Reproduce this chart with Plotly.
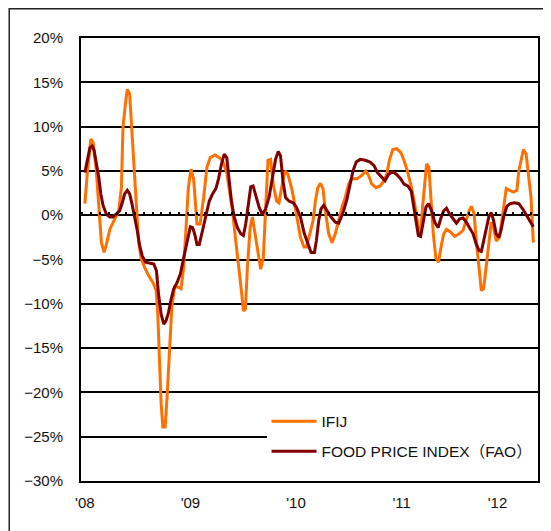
import plotly.graph_objects as go

# x positions in months since Jan 2008, values in %
ifij_month = [0, 0.3, 0.68, 0.94, 1.3, 1.58, 1.88, 2.18, 2.45, 2.83, 3.4, 3.85, 4.15, 4.33, 4.6, 4.82,
              5.09, 5.27, 5.58, 5.84, 6.1, 6.4, 6.79, 7.24, 7.73, 8.1, 8.29, 8.48, 8.67, 8.86, 9.12,
              9.34, 9.6, 9.88, 10.2, 10.55, 10.93, 11.23, 11.5, 11.76, 12.06, 12.36, 12.74, 13.1,
              13.5, 13.87, 14.25, 14.78, 15.27, 15.64, 16.13, 16.4, 16.78, 17.15, 17.53, 17.83,
              18.02, 18.25, 18.47, 18.78, 19.04, 19.34, 19.68, 19.98, 20.28, 20.54, 20.81, 21.11,
              21.41, 21.79, 22.06, 22.43, 22.74, 23.08, 23.56, 24.13, 24.5, 24.9, 25.18, 25.57,
              25.94, 26.2, 26.47, 26.77, 27.07, 27.33, 27.71, 28.09, 28.46, 28.85, 29.22, 29.59,
              29.98, 30.35, 30.92, 31.48, 31.93, 32.24, 32.61, 33.1, 33.55, 34.0, 34.3, 34.61,
              34.99, 35.44, 35.9, 36.27, 36.65, 37.03, 37.45, 37.9, 38.16, 38.38, 38.64, 38.84,
              39.1, 39.29, 39.6, 39.89, 40.19, 40.53, 40.79, 41.1, 41.55, 42.04, 42.53, 42.99,
              43.36, 43.67, 43.93, 44.23, 44.49, 44.8, 45.06, 45.32, 45.62, 45.93, 46.19, 46.45,
              46.75, 47.13, 47.52, 47.89, 48.27, 48.72, 49.1, 49.32, 49.58, 49.84, 50.15, 50.45,
              50.71, 50.97]
ifij_value = [1.3, 5.0, 8.6, 8.2, 5.0, 0.5, -3.1, -4.2, -3.3, -1.6, -0.4, 0.5, 3.1, 9.9, 12.5, 14.2,
              13.7, 10.7, 5.4, 0.5, -2.9, -4.9, -5.9, -6.8, -7.6, -8.5, -11.2, -16.4, -21.3, -23.9, -23.9,
              -20.6, -15.3, -10.4, -8.1, -8.1, -8.3, -5.9, -1.4, 3.1, 5.2, 4.1, -1.0, -1.0,
              2.0, 5.4, 6.5, 6.8, 6.5, 6.2, 4.8, 3.1, 0.5, -2.9, -5.9, -8.9,
              -10.8, -10.6, -5.9, -1.4, -0.2, -2.1, -4.4, -6.1, -4.8, 1.6, 6.2, 6.3,
              3.5, 1.6, 1.4, 3.5, 5.0, 4.6, 2.8, -0.4, -2.5, -3.6, -3.6, -2.1,
              -0.6, 1.6, 3.1, 3.6, 3.0, 0.5, -2.1, -3.1, -2.1, -0.6, 0.9, 2.0,
              3.5, 4.1, 4.1, 4.5, 5.0, 4.5, 3.5, 3.1, 3.3, 3.9, 4.6, 6.2,
              7.4, 7.5, 7.1, 6.2, 5.0, 3.5, 1.5, -1.4, -2.1, 0.9, 3.9, 5.8,
              5.4, 2.0, -2.1, -4.8, -5.3, -3.3, -2.1, -1.6, -1.9, -2.4, -2.1, -1.7,
              -0.6, 0.5, 1.0, 0.2, -2.9, -6.3, -8.5, -8.3, -5.5, -2.5, -0.8, -1.4,
              -2.9, -2.5, 0.1, 3.0, 2.8, 2.6, 2.8, 5.0, 6.2, 7.4, 6.9, 4.3,
              2.0, -3.1]

fao_month = [0, 0.3, 0.57, 0.83, 1.05, 1.31, 1.58, 1.81, 2.07, 2.45, 2.83, 3.2, 3.58, 3.96, 4.25,
             4.52, 4.82, 5.09, 5.35, 5.66, 5.95, 6.22, 6.52, 6.9, 7.35, 7.84, 8.14, 8.37, 8.67,
             8.97, 9.23, 9.5, 9.8, 10.1, 10.48, 10.86, 11.23, 11.6, 11.99, 12.25, 12.5, 12.74,
             13.0, 13.38, 13.76, 14.14, 14.51, 14.89, 15.19, 15.53, 15.84, 16.13, 16.4, 16.66,
             16.97, 17.34, 17.72, 18.02, 18.28, 18.55, 18.85, 19.12, 19.41, 19.8, 20.17, 20.54,
             20.93, 21.3, 21.67, 21.98, 22.24, 22.51, 22.81, 23.19, 23.68, 24.05, 24.5, 24.95,
             25.34, 25.71, 26.09, 26.31, 26.58, 26.84, 27.15, 27.52, 27.97, 28.46, 28.85, 29.14,
             29.41, 29.79, 30.16, 30.47, 30.84, 31.29, 31.86, 32.42, 32.87, 33.26, 33.74, 34.12,
             34.5, 34.99, 35.44, 35.9, 36.27, 36.7, 37.1, 37.33, 37.62, 37.9, 38.16, 38.46, 38.76,
             39.06, 39.4, 39.77, 40.16, 40.53, 40.79, 41.1, 41.47, 41.86, 42.23, 42.6, 42.99,
             43.36, 43.74, 44.12, 44.49, 44.8, 45.06, 45.32, 45.62, 45.93, 46.19, 46.45, 46.75,
             47.06, 47.32, 47.62, 47.96, 48.34, 48.82, 49.32, 49.77, 50.23, 50.6, 50.97]
fao_value = [4.8, 6.3, 7.6, 7.8, 7.3, 5.8, 4.3, 2.4, 1.1, 0.1, -0.2, -0.2, 0.1, 0.5, 1.4,
             2.4, 2.8, 2.4, 1.3, -0.2, -1.7, -3.4, -4.6, -5.3, -5.4, -5.5, -6.3, -8.9, -11.2,
             -12.3, -11.9, -11.0, -9.5, -8.3, -7.6, -6.6, -4.8, -3.1, -1.3, -1.4, -2.2, -3.3,
             -3.3, -1.7, 0.1, 1.6, 2.4, 3.0, 4.1, 5.8, 6.9, 6.5, 3.9, 1.6,
             -0.2, -1.4, -2.1, -2.3, -1.0, 1.3, 3.2, 3.3, 2.2, 0.9, 0.1, 0.7,
             2.0, 4.3, 6.3, 7.2, 6.7, 3.9, 2.0, 1.6, 1.4, 0.9, -0.2, -2.1,
             -3.3, -4.2, -4.2, -2.9, -0.6, 0.7, 1.1, 0.5, -0.2, -0.8, -0.9, -0.2,
             0.5, 1.8, 3.5, 5.0, 6.0, 6.3, 6.2, 6.0, 5.6, 4.8, 4.3, 3.9,
             4.6, 4.9, 4.6, 4.1, 3.5, 3.3, 2.7, 1.3, -0.6, -2.3, -2.4, -0.6, 0.9,
             1.3, 0.5, -0.8, -1.4, -0.1, 0.5, 0.8, 0.1, -0.4, -0.9, -0.4, -0.3,
             -0.8, -1.4, -2.1, -3.3, -4.0, -4.1, -2.9, -1.4, -0.1, 0.3, -0.6, -2.1,
             -2.5, -1.6, -0.1, 1.0, 1.3, 1.4, 1.3, 0.7, -0.1, -0.6, -1.3]

x_tick_pos = [0, 12, 24, 36, 46.9]
x_tick_text = ["'08", "'09", "'10", "'11", "'12"]
y_tick_vals = [20, 15, 10, 5, 0, -5, -10, -15, -20, -25, -30]
y_tick_text = ["20%", "15%", "10%", "5%", "0%", "\u22125%", "\u221210%", "\u221215%",
               "\u221220%", "\u221225%", "\u221230%"]

series_names = ["IFIJ", "FOOD PRICE INDEX\uff08FAO\uff09"]
series_colors = ["#FF7000", "#800000"]

FONT = "Liberation Sans, Arial, Noto Sans CJK JP, sans-serif"
XRANGE = [-0.44, 51.5]

fig = go.Figure()
fig.add_trace(go.Scatter(x=ifij_month, y=ifij_value, mode="lines", name=series_names[0],
                         line=dict(color=series_colors[0], width=3), legendgroup="a"))
fig.add_trace(go.Scatter(x=fao_month, y=fao_value, mode="lines", name=series_names[1],
                         line=dict(color=series_colors[1], width=3), legendgroup="b",
                         xaxis="x2", yaxis="y"))

fig.update_layout(
    width=543, height=523,
    margin=dict(l=73, r=11, t=30, b=50),
    paper_bgcolor="white", plot_bgcolor="white",
    font=dict(family=FONT, size=14, color="#111"),
    xaxis=dict(range=XRANGE, tickvals=x_tick_pos, ticktext=x_tick_text, showgrid=False,
               zeroline=False, showline=True, linecolor="black", linewidth=2, mirror=True,
               ticks="", ticklabelstandoff=7, tickfont=dict(size=15)),
    xaxis2=dict(range=XRANGE, overlaying="x", anchor="free", position=0.6, side="top",
                ticks="outside", ticklen=3, tickwidth=1.5, tickcolor="black",
                tick0=0.7, dtick=1, showticklabels=False, showgrid=False, showline=False,
                zeroline=False),
    yaxis=dict(range=[-30, 20], tickvals=y_tick_vals, ticktext=y_tick_text,
               showgrid=True, gridcolor="black", gridwidth=1.5,
               zeroline=True, zerolinecolor="black", zerolinewidth=2,
               showline=True, linecolor="black", linewidth=2, mirror=True,
               ticks="", ticklabelstandoff=13, tickfont=dict(size=15)),
    legend=dict(x=0.406, y=0.1725, xanchor="left", yanchor="top", bgcolor="white",
                borderwidth=0, font=dict(size=15.5), tracegroupgap=7, itemwidth=45,
                traceorder="grouped"),
    shapes=[dict(type="rect", xref="paper", yref="paper", x0=-0.157, x1=2, y0=-1, y1=1.066,
                 line=dict(color="#222", width=1.5), layer="below")],
)

fig.write_html("out.html")
